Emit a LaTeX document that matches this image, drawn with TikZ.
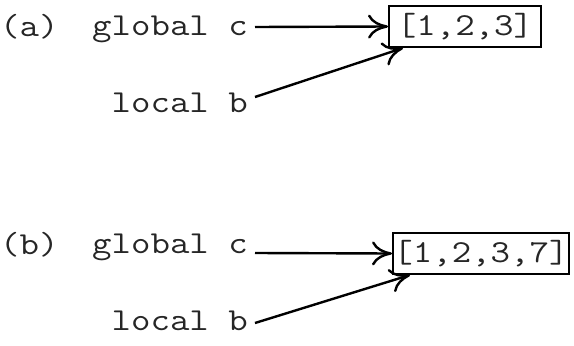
\documentclass[tikz,border=0pt]{standalone}
\usepackage{fontspec}
\setmonofont[FakeStretch=1.18]{Latin Modern Mono}
\usetikzlibrary{arrows.meta}
\begin{document}
\begin{tikzpicture}[x=1pt,y=-1pt,
  txt/.style={font=\ttfamily\fontsize{32}{38}\selectfont, inner sep=0pt, text=black!85},
  valbox/.style={draw, line width=2pt, inner sep=0pt, minimum height=41pt, font=\ttfamily\fontsize{32}{38}\selectfont, text=black!85},
  ptr/.style={line width=2.4pt, -{Computer Modern Rightarrow[length=20pt,width=24pt,line width=2.4pt]}}]
\useasboundingbox (0,0) rectangle (574,346);
% (a)
\node[txt, anchor=base west] (la) at (0,36) {(a)};
\node[txt, anchor=base east] (ga) at (248,35) {global c};
\node[txt, anchor=base east] (lba) at (248,112) {local b};
\node[valbox, minimum width=152pt, anchor=west] (ba) at (388,26.5) {[1,2,3]};
\coordinate (ga0) at (255,27);
\coordinate (lb0) at (255,97);
\draw[ptr] (ga0) -- (ba.west);
\draw[ptr] (lb0) -- ([xshift=15pt]ba.south west);
% (b)
\node[txt, anchor=base west] (lb) at (0,254) {(b)};
\node[txt, anchor=base east] (gb) at (248,253) {global c};
\node[txt, anchor=base east] (lbb) at (248,330) {local b};
\node[valbox, minimum width=176pt, anchor=west] (bb) at (392,253.5) {[1,2,3,7]};
\coordinate (gb0) at (255,253);
\coordinate (lbb0) at (255,323);
\draw[ptr] (gb0) -- (bb.west);
\draw[ptr] (lbb0) -- ([xshift=18pt]bb.south west);
\end{tikzpicture}
\end{document}
